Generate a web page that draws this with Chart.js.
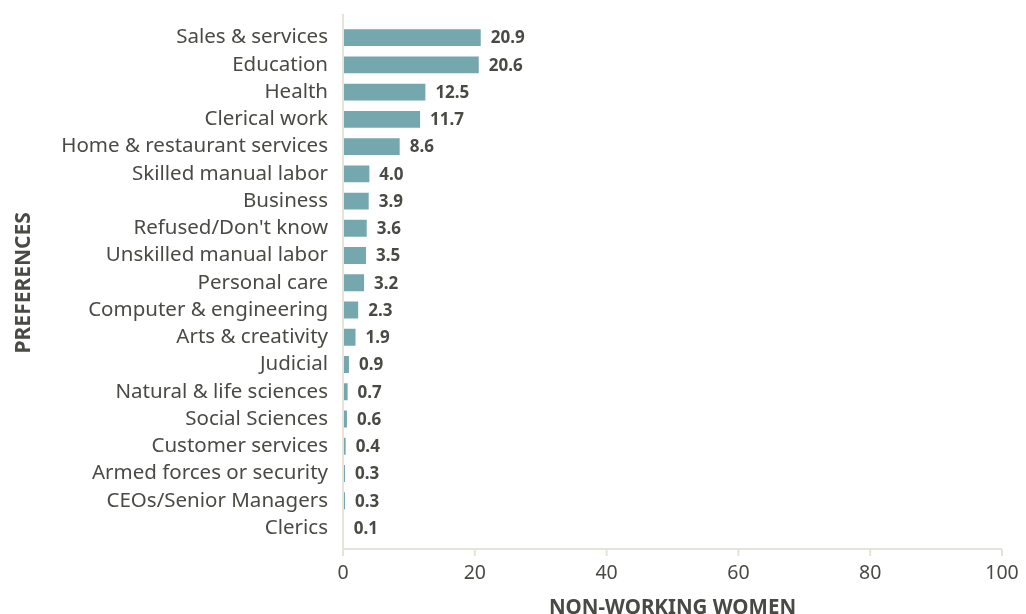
<!DOCTYPE html>
<html>
<head>
<meta charset="utf-8">
<script src="https://cdn.jsdelivr.net/npm/chart.js@4.4.1/dist/chart.umd.min.js"></script>
<style>
  html, body { margin: 0; padding: 0; background: #ffffff; }
  #frame { width: 1026px; height: 614px; overflow: hidden; position: relative; }
  #box { width: 1026px; height: 630px; position: absolute; left: 0; top: 0; }
</style>
</head>
<body>
<div id="frame"><div id="box"><canvas id="chart"></canvas></div></div>
<script>
// Occupation preferences of non-working women (%)
const categories = [
  "Sales & services", "Education", "Health", "Clerical work",
  "Home & restaurant services", "Skilled manual labor", "Business",
  "Refused/Don't know", "Unskilled manual labor", "Personal care",
  "Computer & engineering", "Arts & creativity", "Judicial",
  "Natural & life sciences", "Social Sciences", "Customer services",
  "Armed forces or security", "CEOs/Senior Managers", "Clerics"
];
const shares = [20.9, 20.6, 12.5, 11.7, 8.6, 4.0, 3.9, 3.6, 3.5, 3.2,
                2.3, 1.9, 0.9, 0.7, 0.6, 0.4, 0.3, 0.3, 0.1];
const xTicks = [0, 20, 40, 60, 80, 100];

const TEXT = '#4a4a45';
const AXIS = '#e6e3db';
const BAR = '#74a7ae';
const FONT = "'Noto Sans', 'Open Sans', sans-serif";

// Value labels at the end of each bar, plus the two axis lines and x tick marks
const decorations = {
  id: 'decorations',
  afterDatasetsDraw(chart) {
    const { ctx } = chart;
    const meta = chart.getDatasetMeta(0);
    ctx.save();
    ctx.font = "bold 17px " + FONT;
    ctx.fillStyle = TEXT;
    ctx.textAlign = 'left';
    ctx.textBaseline = 'middle';
    meta.data.forEach((bar, i) => {
      ctx.fillText(shares[i].toFixed(1), bar.x + 10, bar.y + 1);
    });
    ctx.restore();
  },
  afterDraw(chart) {
    const { ctx, chartArea, scales } = chart;
    const axisY = chartArea.bottom + 7.5;
    ctx.save();
    ctx.strokeStyle = AXIS;
    ctx.lineWidth = 2;
    ctx.beginPath();
    ctx.moveTo(chartArea.left, 14);
    ctx.lineTo(chartArea.left, axisY);
    ctx.lineTo(chartArea.right, axisY);
    xTicks.forEach(v => {
      const px = scales.x.getPixelForValue(v);
      ctx.moveTo(px, axisY);
      ctx.lineTo(px, axisY + 7);
    });
    ctx.stroke();
    ctx.restore();
  }
};

new Chart(document.getElementById('chart'), {
  type: 'bar',
  data: {
    labels: categories,
    datasets: [{
      data: shares,
      backgroundColor: BAR,
      borderWidth: 0,
      barPercentage: 0.62,
      categoryPercentage: 1.0
    }]
  },
  options: {
    indexAxis: 'y',
    responsive: true,
    maintainAspectRatio: false,
    animation: false,
    layout: { padding: { top: 24, right: 0, bottom: 0, left: 0 } },
    plugins: { legend: { display: false }, tooltip: { enabled: false } },
    scales: {
      x: {
        min: 0, max: 100,
        afterBuildTicks(scale) { scale.ticks = xTicks.map(v => ({ value: v })); },
        grid: { display: false },
        border: { display: false },
        ticks: { color: TEXT, font: { family: FONT, size: 19.5 }, padding: 12, maxRotation: 0 },
        title: {
          display: true, text: 'NON-WORKING WOMEN', color: TEXT,
          font: { family: FONT, size: 20.5, weight: 'bold' },
          padding: { top: 0, bottom: 10 }
        },
        afterFit(scale) { scale.height = 88.4; scale.paddingRight = 24; }
      },
      y: {
        grid: { display: false },
        border: { display: false },
        ticks: { color: TEXT, font: { family: FONT, size: 20.5 }, padding: 7, autoSkip: false },
        title: {
          display: true, text: 'PREFERENCES', color: TEXT,
          font: { family: FONT, size: 21, weight: 'bold' },
          padding: { top: 11, bottom: 0 }
        },
        afterFit(scale) { scale.width = 343; }
      }
    }
  },
  plugins: [decorations]
});
</script>
</body>
</html>
